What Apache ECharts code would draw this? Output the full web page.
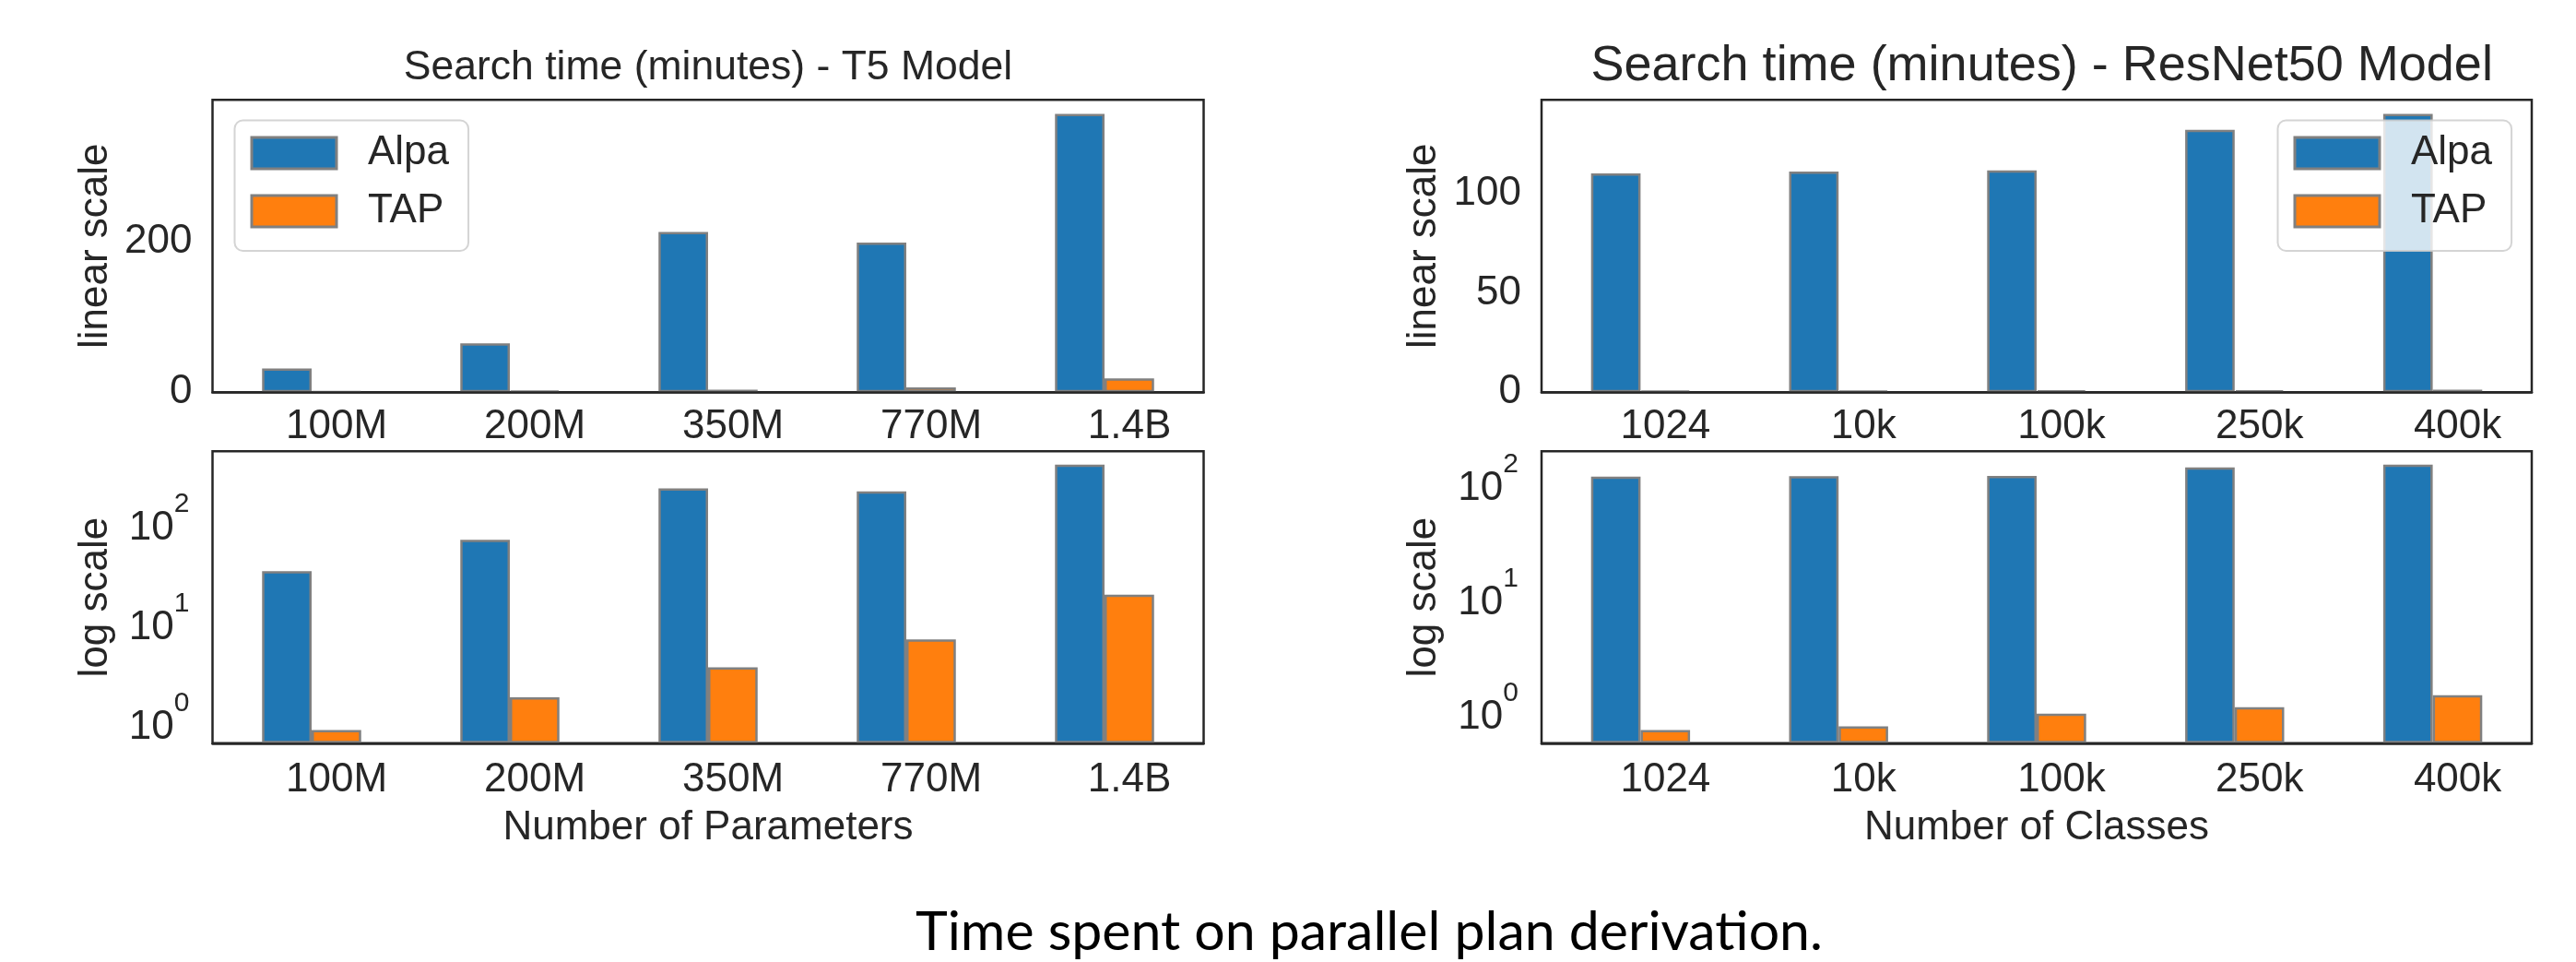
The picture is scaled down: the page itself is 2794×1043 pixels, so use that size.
<!DOCTYPE html>
<html>
<head>
<meta charset="utf-8">
<script src="https://cdn.jsdelivr.net/npm/echarts@6/dist/echarts.min.js"></script>
<style>
html,body{margin:0;padding:0;background:#fff;}
#chart{width:2794px;height:1043px;}
</style>
</head>
<body>
<div id="chart"></div>
<script>
// ---- data ----
const t5Categories = ['100M', '200M', '350M', '770M', '1.4B'];
const t5Alpa = [31.5, 65, 213, 199, 370];
const t5Tap = [0.8, 1.7, 3.4, 6.5, 18.3];

const rnCategories = ['1024', '10k', '100k', '250k', '400k'];
const rnAlpa = [110, 111, 111.5, 132, 140];
const rnTap = [0.67, 0.72, 0.93, 1.06, 1.35];

const seriesNames = ['Alpa', 'TAP'];
const leftTitle = 'Search time (minutes) - T5 Model';
const rightTitle = 'Search time (minutes) - ResNet50 Model';
const leftXName = 'Number of Parameters';
const rightXName = 'Number of Classes';
const caption = 'Time spent on parallel plan derivation.';

// ---- styling ----
const FONT = 'Liberation Sans, Arial, sans-serif';
const INK = '#262626';
const C_ALPA = '#1f77b4';
const C_TAP = '#ff7f0e';
const EDGE = '#808080';

// matplotlib-like autoscale limits
function linMax(vals) { return Math.max(...vals) * 1.05; }
function logLimits(lowVals, highVals) {
  const lo = Math.log10(Math.min(...lowVals));
  const hi = Math.log10(Math.max(...highVals));
  const r = hi - lo;
  return [Math.pow(10, lo - 0.05 * r), Math.pow(10, hi + 0.05 * r)];
}
const t5Log = logLimits(t5Tap, t5Alpa);
const rnLog = logLimits(rnTap, rnAlpa);

const grids = [
  {left: 230.5, top: 108.3, width: 1075, height: 317},
  {left: 230.5, top: 489.3, width: 1075, height: 316.5},
  {left: 1672, top: 108.3, width: 1074, height: 317},
  {left: 1672, top: 489.3, width: 1074, height: 316.5}
].map(g => Object.assign(g, {show: true, borderColor: INK, borderWidth: 2.5, containLabel: false, backgroundColor: 'transparent'}));

function xAxis(gi, cats, name, margin) {
  return {
    type: 'category', gridIndex: gi, data: cats, z: 10,
    axisLine: {show: true, lineStyle: {color: INK, width: 2.5}},
    axisTick: {show: false}, splitLine: {show: false},
    axisLabel: {interval: 0, margin: margin, fontSize: 44, fontFamily: FONT, color: INK, padding: [0, 0, 0, 54]},
    name: name || '', nameLocation: 'middle', nameGap: 70,
    nameTextStyle: {fontSize: 44, fontFamily: FONT, color: INK}
  };
}
function yLinear(gi, max, interval, name) {
  return {
    type: 'value', gridIndex: gi, min: 0, max: max, interval: interval,
    axisLine: {show: false}, axisTick: {show: false}, splitLine: {show: false},
    axisLabel: {margin: 22, fontSize: 44, fontFamily: FONT, color: INK, showMaxLabel: false},
    name: name, nameLocation: 'middle', nameGap: 105,
    nameTextStyle: {fontSize: 44, fontFamily: FONT, color: INK}
  };
}
function yLog(gi, lim, name) {
  return {
    type: 'log', logBase: 10, gridIndex: gi, min: lim[0], max: lim[1], startValue: lim[0],
    axisLine: {show: false}, axisTick: {show: false}, splitLine: {show: false},
    axisLabel: {
      margin: 25, showMinLabel: false, showMaxLabel: false,
      formatter: function (v) {
        const l = Math.log10(v);
        const e = Math.round(l);
        if (Math.abs(l - e) > 1e-6) return '';
        return '{b|10}{s|' + e + '}';
      },
      rich: {
        b: {fontSize: 44, fontFamily: FONT, color: INK, padding: [16, 0, 0, 0]},
        s: {fontSize: 30, fontFamily: FONT, color: INK, padding: [0, 0, 36, 0]}
      }
    },
    name: name, nameLocation: 'middle', nameGap: 105,
    nameTextStyle: {fontSize: 44, fontFamily: FONT, color: INK}
  };
}

function bar(name, gi, data, color) {
  return {
    type: 'bar', name: name, xAxisIndex: gi, yAxisIndex: gi, data: data,
    barWidth: '25%', barGap: '0%',
    itemStyle: {color: color, borderColor: EDGE, borderWidth: 2.5},
    emphasis: {disabled: true}
  };
}

function legend(left) {
  return {
    orient: 'vertical', left: left, top: 130.5,
    data: seriesNames.map(n => ({name: n, icon: 'rect'})),
    icon: 'rect',
    itemWidth: 92, itemHeight: 34, itemGap: 19,
    padding: [13.5, 21, 21, 17],
    backgroundColor: 'rgba(255,255,255,0.8)',
    borderColor: 'rgba(204,204,204,0.85)', borderWidth: 2, borderRadius: 9,
    itemStyle: {borderColor: EDGE, borderWidth: 3},
    textStyle: {fontSize: 44, fontFamily: FONT, color: INK, padding: [0, 0, 0, 29]},
    selectedMode: false, z: 20
  };
}

const option = {
  backgroundColor: '#ffffff',
  animation: false,
  grid: grids,
  xAxis: [
    xAxis(0, t5Categories, '', 16),
    xAxis(1, t5Categories, leftXName, 18),
    xAxis(2, rnCategories, '', 16),
    xAxis(3, rnCategories, rightXName, 18)
  ],
  yAxis: [
    yLinear(0, linMax(t5Alpa), 200, 'linear scale'),
    yLog(1, t5Log, 'log scale'),
    yLinear(2, linMax(rnAlpa), 50, 'linear scale'),
    yLog(3, rnLog, 'log scale')
  ],
  legend: [legend(254.5), legend(2470.5)],
  series: [
    bar('Alpa', 0, t5Alpa, C_ALPA), bar('TAP', 0, t5Tap, C_TAP),
    bar('Alpa', 1, t5Alpa, C_ALPA), bar('TAP', 1, t5Tap, C_TAP),
    bar('Alpa', 2, rnAlpa, C_ALPA), bar('TAP', 2, rnTap, C_TAP),
    bar('Alpa', 3, rnAlpa, C_ALPA), bar('TAP', 3, rnTap, C_TAP)
  ],
  graphic: [
    {type: 'text', x: 768, y: 74.2, style: {text: leftTitle, font: '44.5px ' + FONT, fill: INK, align: 'center', verticalAlign: 'middle'}},
    {type: 'text', x: 2214.7, y: 71.7, style: {text: rightTitle, font: '54px ' + FONT, fill: INK, align: 'center', verticalAlign: 'middle'}},
    {type: 'text', x: 1485, y: 1011, style: {text: caption, font: '59px Lato, sans-serif', fill: '#000000', align: 'center', verticalAlign: 'middle'}}
  ]
};

const chart = echarts.init(document.getElementById('chart'), null, {renderer: 'canvas'});
chart.setOption(option);
</script>
</body>
</html>
